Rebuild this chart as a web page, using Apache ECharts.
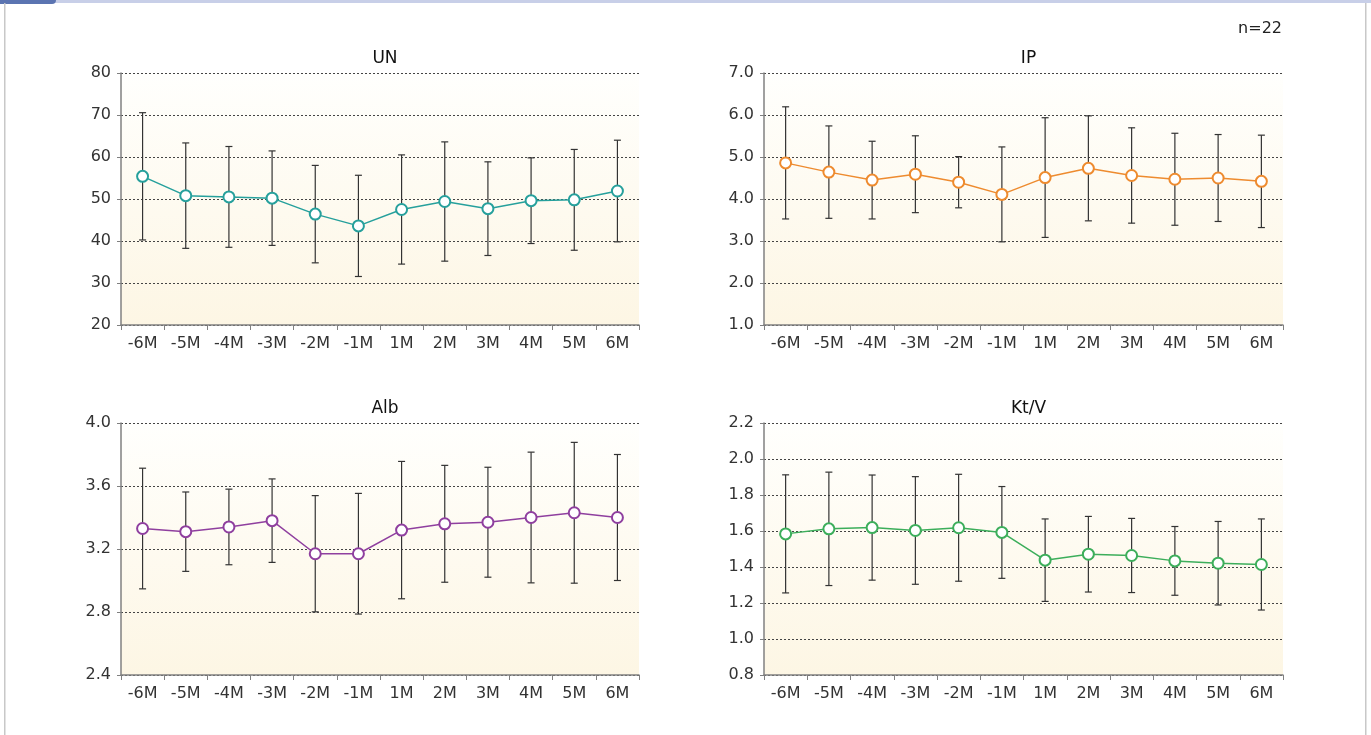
<!DOCTYPE html>
<html><head><meta charset="utf-8">
<script src="https://cdn.jsdelivr.net/npm/echarts@6/dist/echarts.min.js"></script>
<style>html,body{margin:0;padding:0;background:#fff}#c{width:1371px;height:735px}</style>
</head><body><div id="c"></div>
<script>
const categories = ['-6M','-5M','-4M','-3M','-2M','-1M','1M','2M','3M','4M','5M','6M'];

const unMean = [55.4,50.8,50.5,50.2,46.4,43.6,47.5,49.4,47.7,49.6,49.8,51.9];
const unSd   = [15.15,12.55,12.0,11.25,11.6,12.05,13.0,14.2,11.15,10.2,12.0,12.1];

const ipMean = [4.86,4.64,4.45,4.59,4.40,4.11,4.51,4.73,4.56,4.47,4.50,4.42];
const ipSd   = [1.335,1.10,0.925,0.915,0.61,1.13,1.425,1.25,1.135,1.095,1.035,1.10];

const albMean = [3.33,3.31,3.34,3.38,3.17,3.17,3.32,3.36,3.37,3.40,3.43,3.40];
const albSd   = [0.383,0.252,0.24,0.265,0.369,0.383,0.436,0.371,0.349,0.415,0.447,0.40];

const ktvMean = [1.584,1.612,1.619,1.603,1.618,1.592,1.438,1.471,1.464,1.434,1.421,1.414];
const ktvSd   = [0.328,0.315,0.292,0.299,0.297,0.255,0.229,0.21,0.206,0.191,0.232,0.253];

const panels = [
  {title:'UN',   mean:unMean,  sd:unSd,  min:20,  max:80,  interval:10,  dec:0, color:'#26a09c'},
  {title:'IP',   mean:ipMean,  sd:ipSd,  min:1,   max:7,   interval:1,   dec:1, color:'#ee8b2f'},
  {title:'Alb',  mean:albMean, sd:albSd, min:2.4, max:4.0, interval:0.4, dec:1, color:'#8f3f9f'},
  {title:'Kt/V', mean:ktvMean, sd:ktvSd, min:0.8, max:2.2, interval:0.2, dec:1, color:'#3cae5b'}
];

const gridPos = [
  {left:121, top:73, width:518, height:252},
  {left:764, top:73, width:519, height:252},
  {left:121, top:423, width:518, height:252},
  {left:764, top:423, width:519, height:252}
];

const FONT = 'DejaVu Sans';
const grids = [], xAxes = [], yAxes = [], series = [], titles = [];

panels.forEach((p, i) => {
  const g = gridPos[i];
  grids.push(Object.assign({}, g, {
    show: true, borderWidth: 0,
    backgroundColor: {type:'linear', x:0, y:0, x2:0, y2:1,
      colorStops:[{offset:0, color:'#fffffd'},{offset:1, color:'#fdf6e4'}]}
  }));
  xAxes.push({
    type:'category', gridIndex:i, data:categories, boundaryGap:true,
    axisLine:{show:true, lineStyle:{color:'#808080', width:1.5}},
    axisTick:{show:true, interval:0, length:5, lineStyle:{color:'#808080'}},
    axisLabel:{interval:0, fontSize:16, color:'#333', fontFamily:FONT, margin:11},
    splitLine:{show:false}
  });
  yAxes.push({
    type:'value', gridIndex:i, min:p.min, max:p.max, interval:p.interval,
    axisLine:{show:true, lineStyle:{color:'#808080', width:1.5}},
    axisTick:{show:true, length:4, lineStyle:{color:'#808080'}},
    axisLabel:{fontSize:16, color:'#333', fontFamily:FONT, margin:10,
      formatter: v => v.toFixed(p.dec)},
    splitLine:{show:true, lineStyle:{color:'#444', width:1, type:[2,2]}}
  });
  titles.push({
    text:p.title, left:g.left + g.width/2, top:g.top - 28, textAlign:'center',
    textStyle:{fontSize:17, fontWeight:500, color:'#111', fontFamily:FONT}
  });
  const errData = p.mean.map((m, k) => [k, +(m - p.sd[k]).toFixed(4), +(m + p.sd[k]).toFixed(4)]);
  series.push({
    type:'custom', xAxisIndex:i, yAxisIndex:i, z:2,
    data: errData, encode:{x:0, y:[1,2]},
    renderItem: (params, api) => {
      const lo = api.coord([api.value(0), api.value(1)]);
      const hi = api.coord([api.value(0), api.value(2)]);
      const w = 3.5;
      const st = {stroke:'#333', lineWidth:1.2};
      return {type:'group', children:[
        {type:'line', shape:{x1:lo[0], y1:lo[1], x2:hi[0], y2:hi[1]}, style:st},
        {type:'line', shape:{x1:lo[0]-w, y1:lo[1], x2:lo[0]+w, y2:lo[1]}, style:st},
        {type:'line', shape:{x1:hi[0]-w, y1:hi[1], x2:hi[0]+w, y2:hi[1]}, style:st}
      ]};
    }
  });
  series.push({
    type:'line', xAxisIndex:i, yAxisIndex:i, z:5, data:p.mean,
    symbol:'circle', symbolSize:11, showAllSymbol:true,
    lineStyle:{color:p.color, width:1.5},
    itemStyle:{color:'#fff', borderColor:p.color, borderWidth:2},
    emphasis:{disabled:true}
  });
});

const chart = echarts.init(document.getElementById('c'), null, {renderer:'canvas'});
chart.setOption({
  animation:false,
  backgroundColor:'#fff',
  title: titles,
  grid: grids, xAxis: xAxes, yAxis: yAxes, series: series,
  graphic: [
    {type:'rect', left:0, top:0, shape:{width:1371, height:3}, style:{fill:'#c8cfe8'}},
    {type:'rect', left:0, top:0, shape:{width:56, height:4, r:[0,0,5,0]}, style:{fill:'#5b74b1'}},
    {type:'rect', left:4, top:3, shape:{width:1.5, height:732}, style:{fill:'#c8c8c8'}},
    {type:'rect', left:1365, top:3, shape:{width:1.5, height:732}, style:{fill:'#c8c8c8'}},
    {type:'text', right:89, top:21, style:{text:'n=22', fontSize:16, fill:'#222', fontFamily:FONT}}
  ]
});
</script></body></html>
